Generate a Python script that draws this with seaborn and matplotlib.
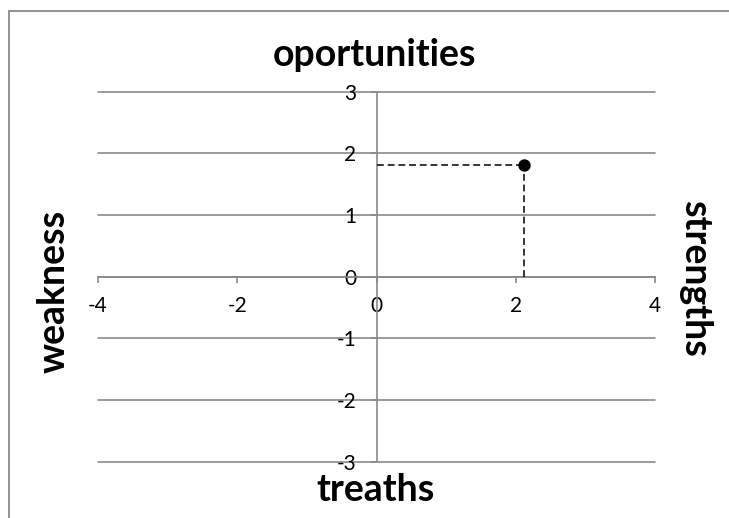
import matplotlib
matplotlib.use("Agg")
import matplotlib.pyplot as plt
import matplotlib.patches as mpatches
import seaborn as sns
import pandas as pd

# Position of the assessed item on the SWOT plane
point_x = [2.12]
point_y = [1.81]

x_ticks = [-4, -2, 0, 2, 4]
y_ticks = [-3, -2, -1, 0, 1, 2, 3]

label_top = "oportunities"
label_bottom = "treaths"
label_left = "weakness"
label_right = "strengths"

sns.set_theme(style="white")
plt.rcParams["font.family"] = ["Lato", "DejaVu Sans"]

grey = "#8a8a8a"

fig = plt.figure(figsize=(7.29, 5.18), dpi=100)
ax = fig.add_axes([98 / 729, 56.2 / 518, 557 / 729, 370.2 / 518])

df = pd.DataFrame({"x": point_x, "y": point_y})

# dashed guides from the point back to both axes
ax.plot([0, point_x[0]], [point_y[0], point_y[0]], color="black", lw=1.1,
        ls=(0, (4.5, 2.5)), zorder=3)
ax.plot([point_x[0], point_x[0]], [0, point_y[0]], color="black", lw=1.1,
        ls=(0, (4.5, 2.5)), zorder=3)

sns.scatterplot(data=df, x="x", y="y", ax=ax, s=80, color="black",
                edgecolor="black", linewidth=0, zorder=4, legend=False)

ax.set_xlim(-4, 4)
ax.set_ylim(-3, 3)
ax.set_xticks(x_ticks)
ax.set_yticks(y_ticks)
ax.set_xticklabels([str(v) for v in x_ticks])
ax.set_yticklabels([str(v) for v in y_ticks])
ax.set_xlabel("")
ax.set_ylabel("")

# axes crossing at the origin
for side in ("top", "right"):
    ax.spines[side].set_visible(False)
ax.spines["left"].set_position(("data", 0))
ax.spines["bottom"].set_position(("data", 0))
for side in ("left", "bottom"):
    ax.spines[side].set_color(grey)
    ax.spines[side].set_linewidth(1.2)

ax.yaxis.grid(True, color=grey, linewidth=1.2)
ax.xaxis.grid(False)
ax.set_axisbelow(True)
for gl in ax.get_ygridlines():
    gl.set_clip_on(False)

ax.tick_params(axis="x", direction="out", length=4.5, width=1.2, color=grey,
               pad=9.5, labelsize=15, labelcolor="black", bottom=True)
ax.tick_params(axis="y", direction="out", length=4.5, width=1.2, color=grey,
               pad=10, labelsize=15, labelcolor="black", left=True)

# quadrant labels around the plot
fs = 27
fig.text(375 / 729, 1 - 55 / 518, label_top, ha="center", va="center",
         fontsize=fs, fontweight="bold", color="black")
fig.text(376 / 729, 1 - 490 / 518, label_bottom, ha="center", va="center",
         fontsize=fs, fontweight="bold", color="black")
fig.text(54 / 729, 1 - 291 / 518, label_left, ha="center", va="center",
         rotation=90, fontsize=fs, fontweight="bold", color="black")
fig.text(695 / 729, 1 - 278 / 518, label_right, ha="center", va="center",
         rotation=270, fontsize=fs, fontweight="bold", color="black")

# chart-area frame
frame = mpatches.Rectangle((8.5 / 729, -0.1), 1.2, 0.1 + (518 - 10.5) / 518,
                           transform=fig.transFigure, fill=False,
                           edgecolor=grey, linewidth=1.3)
fig.patches.append(frame)

fig.savefig("out.png", dpi=100)
